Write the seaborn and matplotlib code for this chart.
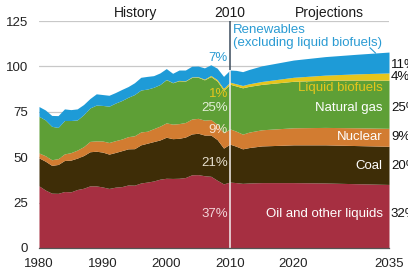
import matplotlib
matplotlib.use("Agg")
import matplotlib.pyplot as plt
import seaborn as sns
import numpy as np

# ---------------- data (quadrillion Btu) ----------------
years = [1980, 1981, 1982, 1983, 1984, 1985, 1986, 1987, 1988, 1989,
         1990, 1991, 1992, 1993, 1994, 1995, 1996, 1997, 1998, 1999,
         2000, 2001, 2002, 2003, 2004, 2005, 2006, 2007, 2008, 2009,
         2010, 2011, 2012, 2013, 2015, 2020, 2025, 2030, 2035]
oil = [34.2, 31.9, 30.2, 30.1, 31.1, 30.9, 32.2, 32.9, 34.2, 34.2,
       33.6, 32.8, 33.5, 33.8, 34.7, 34.6, 35.8, 36.3, 36.9, 37.9,
       38.4, 38.3, 38.4, 38.8, 40.3, 40.4, 39.8, 39.5, 37.3, 35.3,
       36.3, 36.0, 35.6, 35.8, 36.0, 36.0, 35.8, 35.4, 35.0]
coal = [15.4, 15.9, 15.3, 15.9, 17.1, 17.5, 17.3, 18.0, 18.8, 19.1,
        19.2, 18.9, 19.1, 19.8, 19.9, 20.1, 21.0, 21.4, 21.7, 21.6,
        22.6, 21.9, 22.0, 22.3, 22.5, 22.8, 22.4, 22.7, 22.4, 19.7,
        20.9, 20.0, 19.0, 19.5, 20.2, 20.8, 21.0, 21.0, 21.0]
nuclear = [2.7, 3.0, 3.1, 3.2, 3.6, 4.1, 4.4, 4.9, 5.7, 5.7,
           6.1, 6.4, 6.5, 6.4, 6.7, 7.1, 7.1, 6.6, 7.1, 7.6,
           7.9, 8.0, 8.1, 8.0, 8.2, 8.2, 8.2, 8.5, 8.4, 8.4,
           8.4, 8.3, 8.1, 8.5, 8.9, 9.4, 9.6, 9.8, 9.9]
natural_gas = [20.2, 19.7, 18.4, 17.2, 18.4, 17.7, 16.6, 17.6, 18.4, 19.7,
               19.6, 20.0, 20.7, 21.2, 21.7, 22.7, 23.1, 23.2, 22.8, 22.9,
               23.8, 22.8, 23.6, 22.8, 22.9, 22.6, 22.2, 23.7, 23.8, 23.4,
               24.6, 24.9, 25.5, 25.2, 25.0, 25.6, 26.0, 26.3, 26.5]
liquid_biofuels = [0.0, 0.0, 0.0, 0.0, 0.0, 0.0, 0.0, 0.0, 0.0, 0.0,
                   0.0, 0.0, 0.0, 0.0, 0.0, 0.0, 0.0, 0.0, 0.0, 0.0,
                   0.1, 0.1, 0.2, 0.2, 0.3, 0.3, 0.4, 0.6, 0.8, 1.0,
                   1.1, 1.2, 1.3, 1.4, 1.6, 2.2, 2.8, 3.4, 4.0]
renewables = [5.4, 5.5, 6.0, 6.5, 6.4, 6.0, 6.1, 5.6, 5.2, 6.2,
              6.0, 6.0, 5.8, 6.1, 5.9, 6.5, 7.0, 7.0, 6.4, 6.4,
              6.0, 5.1, 5.7, 5.9, 5.9, 5.9, 6.2, 5.9, 6.3, 6.7,
              6.7, 7.4, 7.6, 7.9, 8.6, 9.5, 10.2, 10.8, 11.5]

series_names = ["Oil and other liquids", "Coal", "Nuclear", "Natural gas",
                "Liquid biofuels", "Renewables\n(excluding liquid biofuels)"]
share_2010 = ["37%", "21%", "9%", "25%", "1%", "7%"]
share_2035 = ["32%", "20%", "9%", "25%", "4%", "11%"]
x_ticks = [1980, 1990, 2000, 2010, 2020, 2035]
y_ticks = [0, 25, 50, 75, 100, 125]
headers = ["History", "2010", "Projections"]

colors = ["#A62F41", "#3E2D07", "#D27C31", "#5E9F36", "#E6C51C", "#1E9BD7"]

# ---------------- styling ----------------
sns.set_theme(style="white")
plt.rcParams["font.family"] = ["Liberation Sans", "DejaVu Sans"]

fig = plt.figure(figsize=(4.08, 2.74), dpi=100)
ax = fig.add_axes([39 / 408, 1 - 248 / 274, 350 / 408, 227 / 274])

yrs = np.array(years)
stack = [np.array(s) for s in (oil, coal, nuclear, natural_gas, liquid_biofuels, renewables)]
ax.stackplot(yrs, *stack, colors=colors, linewidth=0, zorder=2)

total = np.sum(stack, axis=0)
cum = np.cumsum(stack, axis=0)

ax.set_xlim(1980, 2035)
ax.set_ylim(0, 125)
ax.set_xticks(x_ticks)
ax.set_yticks(y_ticks)
ax.tick_params(axis="both", labelsize=9.5, colors="#222222")
ax.tick_params(axis="x", direction="out", length=4, width=0.8, color="#555555", pad=3)
ax.tick_params(axis="y", length=0, pad=8)
ax.yaxis.grid(True, color="#C8C8C8", linewidth=0.9, zorder=0)
ax.set_axisbelow(True)
for s in ["top", "right", "left"]:
    ax.spines[s].set_visible(False)
ax.spines["bottom"].set_color("#555555")
ax.spines["bottom"].set_linewidth(0.9)
ax.spines["bottom"].set_zorder(5)

# 2010 divider
i10 = years.index(2010)
ax.vlines(2010, total[i10], 125, color="#3A4B5C", linewidth=1.1, zorder=3)
ax.vlines(2010, 0, total[i10], color="#F4F0F0", linewidth=1.1, zorder=4)

# headers
hx = [1995.1, 2010.0, 2025.7]
for h, xx in zip(headers, hx):
    ax.text(xx, 129.5, h, ha="center", va="center", fontsize=10, color="#1A1A1A",
            clip_on=False)

# 2010 shares
lab_y_2010 = [18.7, 47, 65, 77, 85, 104.6]
col_2010 = ["#F2D6DA", "#E6DFCF", "#F6E3D0", "#E4F0D8", "#E6C51C", "#2A9BD3"]
for t, yy, c in zip(share_2010, lab_y_2010, col_2010):
    ax.text(2009.7, yy, t, ha="right", va="center", fontsize=9.5, color=c, zorder=6)

# series labels inside projection region
lab_y = [18.7, 45, 61, 77, 88]
lab_col = ["white", "white", "white", "white", "#E6C51C"]
for name, yy, c in zip(series_names[:5], lab_y, lab_col):
    ax.text(2034.0, yy, name, ha="right", va="center", fontsize=9.5, color=c, zorder=6)

ax.text(2010.5, 116.5, series_names[5], ha="left", va="center", fontsize=9.5,
        color="#2A9BD3", linespacing=1.05, zorder=6)
ax.plot([2032.0, 2032.9], [110.3, 107.3], color="#2A9BD3", linewidth=0.8, zorder=6)

# 2035 shares at the right edge
lab_y_2035 = [18.7, 45, 61, 77, 94, 101]
for t, yy in zip(share_2035, lab_y_2035):
    ax.text(2035.3, yy, t, ha="left", va="center", fontsize=9.5, color="#111111",
            clip_on=False)

fig.savefig("out.png", dpi=100)
